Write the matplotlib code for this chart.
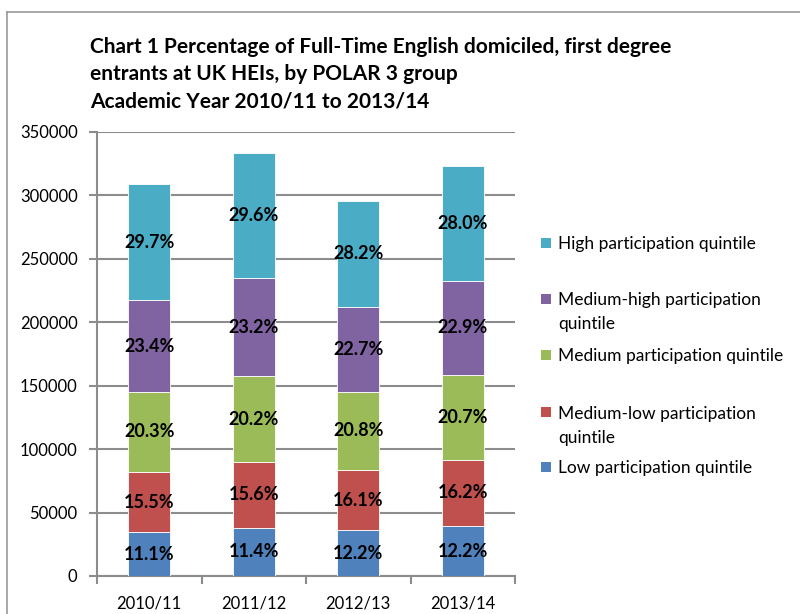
import matplotlib
matplotlib.use("Agg")
import matplotlib.pyplot as plt
from matplotlib.patches import Rectangle
from matplotlib.lines import Line2D
import numpy as np

plt.rcParams['font.family'] = ['Lato', 'DejaVu Sans']

years = ["2010/11", "2011/12", "2012/13", "2013/14"]
series_names = ["Low participation quintile", "Medium-low participation quintile",
                "Medium participation quintile", "Medium-high participation quintile",
                "High participation quintile"]
low = [34300, 38000, 36100, 39400]
medium_low = [47900, 52000, 47600, 52300]
medium = [62700, 67400, 61500, 66900]
medium_high = [72300, 77400, 67100, 74000]
high = [91800, 98700, 83300, 90400]
pct_low = ["11.1%", "11.4%", "12.2%", "12.2%"]
pct_medium_low = ["15.5%", "15.6%", "16.1%", "16.2%"]
pct_medium = ["20.3%", "20.2%", "20.8%", "20.7%"]
pct_medium_high = ["23.4%", "23.2%", "22.7%", "22.9%"]
pct_high = ["29.7%", "29.6%", "28.2%", "28.0%"]
yticks = [0, 50000, 100000, 150000, 200000, 250000, 300000, 350000]
title_lines = ["Chart 1 Percentage of Full-Time English domiciled, first degree",
               "entrants at UK HEIs, by POLAR 3 group",
               "Academic Year 2010/11 to 2013/14"]

colors = ["#4F81BD", "#C0504D", "#9BBB59", "#8064A2", "#4BACC6"]
values = [low, medium_low, medium, medium_high, high]
labels = [pct_low, pct_medium_low, pct_medium, pct_medium_high, pct_high]

W, H = 800, 614
fig = plt.figure(figsize=(8, 6.14), dpi=100)
ax = fig.add_axes([97 / W, 1 - 576 / H, (515 - 97) / W, (576 - 132) / H])

x = np.arange(len(years))
bottom = np.zeros(len(years))
for vals, col, labs in zip(values, colors, labels):
    vals = np.array(vals, dtype=float)
    ax.bar(x, vals, width=0.40, bottom=bottom, color=col, edgecolor='white',
           linewidth=0.6, zorder=3)
    for xi, b, v, lab in zip(x, bottom, vals, labs):
        ax.text(xi, b + v / 2, lab, ha='center', va='center', fontsize=13,
                fontweight='bold', color='black', zorder=4)
    bottom += vals

ax.set_xlim(-0.5, 3.5)
ax.set_ylim(0, 350000)
ax.set_yticks(yticks)
ax.set_yticklabels([str(t) for t in yticks], fontsize=12)
ax.yaxis.grid(True, color='#8C8C8C', linewidth=1.5, zorder=0)
ax.set_axisbelow(True)
for s in ['top', 'right']:
    ax.spines[s].set_visible(False)
for s in ['left', 'bottom']:
    ax.spines[s].set_color('#8C8C8C')
    ax.spines[s].set_linewidth(1.5)
ax.tick_params(axis='y', length=6, width=1.5, color='#8C8C8C', pad=8, labelcolor='black')
ax.set_xticks(x)
ax.set_xticklabels(years, fontsize=12)
ax.tick_params(axis='x', which='major', length=0, pad=14)
ax.set_xticks(np.arange(-0.5, 3.6, 1), minor=True)
ax.tick_params(axis='x', which='minor', length=6, width=1.5, color='#8C8C8C')

for line, yc in zip(title_lines, [45, 72, 99]):
    fig.text(90 / W, 1 - yc / H, line, ha='left', va='center_baseline',
             fontsize=15, fontweight='bold')

# legend (manual, Excel-like spacing)
leg_entries = [
    (["High participation quintile"], colors[4], 243),
    (["Medium-high participation", "quintile"], colors[3], 299),
    (["Medium participation quintile"], colors[2], 355),
    (["Medium-low participation", "quintile"], colors[1], 412),
    (["Low participation quintile"], colors[0], 467),
]
for lines, col, yc in leg_entries:
    fig.add_artist(Rectangle((541 / W, 1 - (yc + 5) / H), 10 / W, 10 / H,
                             transform=fig.transFigure, facecolor=col, edgecolor='none'))
    for i, ln in enumerate(lines):
        fig.text(558 / W, 1 - (yc + 24 * i) / H, ln, ha='left', va='center_baseline',
                 fontsize=12.5)

# chart border
fig.add_artist(Line2D([7 / W, 1.0], [1 - 12 / H, 1 - 12 / H], transform=fig.transFigure,
                      color='#9A9A9A', linewidth=1.2))
fig.add_artist(Line2D([7 / W, 7 / W], [0, 1 - 12 / H], transform=fig.transFigure,
                      color='#9A9A9A', linewidth=1.2))

fig.savefig("out.png", dpi=100)
